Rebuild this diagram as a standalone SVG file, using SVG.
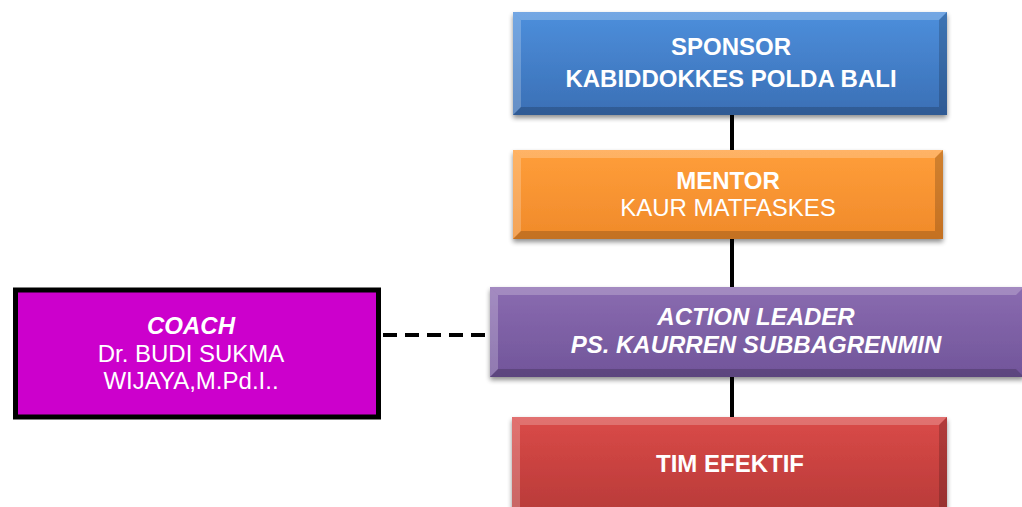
<svg xmlns="http://www.w3.org/2000/svg" width="1022" height="507" viewBox="0 0 1022 507">
<style>
.t{font-family:"Liberation Sans",Arial,sans-serif;fill:#fff;text-anchor:middle;font-size:24px}
.b{font-weight:bold}
.i{font-style:italic}
.hl{fill:#fff;opacity:.22}
.sh{fill:#000;opacity:.18}
.conn{stroke:#000;stroke-width:4;fill:none}
</style>
<defs>
<linearGradient id="gB" x1="0" y1="0" x2="0" y2="1"><stop offset="0" stop-color="#4d8fdc"/><stop offset="1" stop-color="#3a6fb5"/></linearGradient>
<linearGradient id="gO" x1="0" y1="0" x2="0" y2="1"><stop offset="0" stop-color="#ff9e3a"/><stop offset="1" stop-color="#f08a2a"/></linearGradient>
<linearGradient id="gP" x1="0" y1="0" x2="0" y2="1"><stop offset="0" stop-color="#8a6bb0"/><stop offset="1" stop-color="#71559a"/></linearGradient>
<linearGradient id="gR" x1="0" y1="0" x2="0" y2="1"><stop offset="0" stop-color="#da4a48"/><stop offset="1" stop-color="#b73a38"/></linearGradient>
<filter id="ds" x="-5%" y="-10%" width="110%" height="130%"><feGaussianBlur in="SourceAlpha" stdDeviation="2.5"/><feOffset dy="3" result="o"/><feComponentTransfer><feFuncA type="linear" slope="0.45"/></feComponentTransfer><feMerge><feMergeNode/><feMergeNode in="SourceGraphic"/></feMerge></filter>
</defs>
<g id="connectors">
<line class="conn" x1="732" y1="115" x2="732" y2="150"/>
<line class="conn" x1="732" y1="239" x2="732" y2="287"/>
<line class="conn" x1="732" y1="377" x2="732" y2="417"/>
<line class="conn" x1="383" y1="335" x2="490" y2="335" stroke-dasharray="14 8"/>
</g>
<g id="sponsor">
<rect x="513" y="12" width="434" height="103" fill="url(#gB)" filter="url(#ds)"/>
<polygon class="hl" points="513,12 947,12 939,20 521,20"/>
<polygon class="hl" points="513,12 521,20 521,107 513,115" opacity=".12"/>
<polygon class="sh" points="513,115 521,107 939,107 947,115"/>
<polygon class="sh" points="947,12 947,115 939,107 939,20" opacity=".12"/>
<text class="t b" x="731" y="55">SPONSOR</text>
<text class="t b" x="731" y="87">KABIDDOKKES POLDA BALI</text>
</g>
<g id="mentor">
<rect x="513" y="150" width="430" height="89" fill="url(#gO)" filter="url(#ds)"/>
<polygon class="hl" points="513,150 943,150 935,158 521,158"/>
<polygon class="hl" points="513,150 521,158 521,231 513,239" opacity=".12"/>
<polygon class="sh" points="513,239 521,231 935,231 943,239"/>
<polygon class="sh" points="943,150 943,239 935,231 935,158" opacity=".12"/>
<text class="t b" x="728" y="189">MENTOR</text>
<text class="t" x="728" y="216">KAUR MATFASKES</text>
</g>
<g id="action-leader">
<rect x="490" y="287" width="534" height="90" fill="url(#gP)" filter="url(#ds)"/>
<polygon class="hl" points="490,287 1024,287 1016,295 498,295"/>
<polygon class="hl" points="490,287 498,295 498,369 490,377" opacity=".12"/>
<polygon class="sh" points="490,377 498,369 1016,369 1024,377"/>
<text class="t b i" x="756" y="325">ACTION LEADER</text>
<text class="t b i" x="756" y="353">PS. KAURREN SUBBAGRENMIN</text>
</g>
<g id="coach">
<rect x="15.5" y="290" width="363" height="127" fill="#cc00cc" stroke="#000" stroke-width="5"/>
<text class="t b i" x="191" y="334">COACH</text>
<text class="t" x="191" y="362">Dr. BUDI SUKMA</text>
<text class="t" x="191" y="389">WIJAYA,M.Pd.I..</text>
</g>
<g id="tim-efektif">
<rect x="512" y="417" width="435" height="100" fill="url(#gR)" filter="url(#ds)"/>
<polygon class="hl" points="512,417 947,417 939,425 520,425"/>
<polygon class="hl" points="512,417 520,425 520,517 512,517" opacity=".12"/>
<polygon class="sh" points="947,417 947,517 939,517 939,425" opacity=".12"/>
<text class="t b" x="730" y="472">TIM EFEKTIF</text>
</g>
</svg>
